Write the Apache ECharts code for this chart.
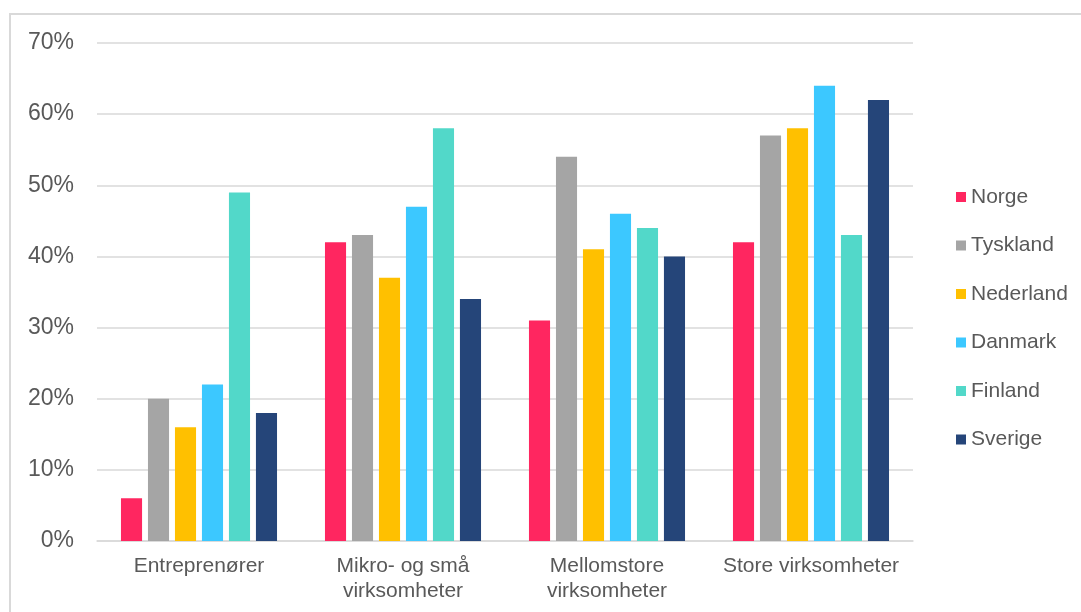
<!DOCTYPE html>
<html>
<head>
<meta charset="utf-8">
<script src="https://cdn.jsdelivr.net/npm/echarts@6/dist/echarts.min.js"></script>
<style>
  html, body { margin: 0; padding: 0; background: #fff; }
  #frame { position: absolute; left: 9px; top: 13px; width: 1100px; height: 640px; border: 2px solid #d9d9d9; box-sizing: border-box; }
  #chart { position: absolute; left: 0; top: 0; width: 1081px; height: 612px; }
</style>
</head>
<body>
<div id="frame"></div>
<div id="chart"></div>
<script>
// Company size groups on the x axis
const categories = ['Entreprenører', 'Mikro- og små\nvirksomheter', 'Mellomstore\nvirksomheter', 'Store virksomheter'];

// Share per country (%), one value per company size group
const norge     = [6, 42, 31, 42];
const tyskland  = [20, 43, 54, 57];
const nederland = [16, 37, 41, 58];
const danmark   = [22, 47, 46, 64];
const finland   = [49, 58, 44, 43];
const sverige   = [18, 34, 40, 62];

const countries = ['Norge', 'Tyskland', 'Nederland', 'Danmark', 'Finland', 'Sverige'];
const values = [norge, tyskland, nederland, danmark, finland, sverige];
const colors = ['#FF2660', '#A5A5A5', '#FFC000', '#3CC8FF', '#52D8C9', '#254579'];

const yTicks = { min: 0, max: 70, interval: 10 };

const textColor = '#595959';
const font = 'Liberation Sans, Arial, sans-serif';

const chart = echarts.init(document.getElementById('chart'), null, { renderer: 'canvas' });

chart.setOption({
  animation: false,
  backgroundColor: 'transparent',
  color: colors,
  grid: { left: 97, right: 168, top: 43, bottom: 71, containLabel: false },
  legend: {
    orient: 'vertical',
    left: 956,
    top: 186,
    padding: 0,
    itemWidth: 10,
    itemHeight: 10,
    itemGap: 26.5,
    icon: 'rect',
    data: countries,
    textStyle: { color: textColor, fontSize: 21, fontFamily: font, lineHeight: 22 }
  },
  xAxis: {
    type: 'category',
    data: categories,
    axisLine: { show: true, lineStyle: { color: '#d9d9d9', width: 1.5 } },
    axisTick: { show: false },
    axisLabel: {
      interval: 0,
      color: textColor,
      fontSize: 21,
      fontFamily: font,
      lineHeight: 25,
      margin: 13
    }
  },
  yAxis: {
    type: 'value',
    min: yTicks.min,
    max: yTicks.max,
    interval: yTicks.interval,
    axisLine: { show: false },
    axisTick: { show: false },
    splitLine: { lineStyle: { color: '#d9d9d9', width: 1.5 } },
    axisLabel: {
      formatter: '{value}%',
      color: textColor,
      fontSize: 23,
      fontFamily: font,
      margin: 23
    }
  },
  series: countries.map((name, i) => ({
    name: name,
    type: 'bar',
    data: values[i],
    barGap: '28%',
    barCategoryGap: '23.5%',
    itemStyle: { color: colors[i] }
  }))
});
</script>
</body>
</html>
